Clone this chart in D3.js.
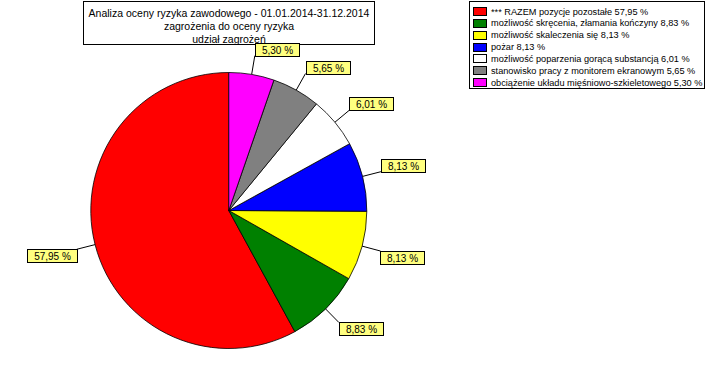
<!DOCTYPE html>
<html><head><meta charset="utf-8">
<script src="https://cdn.jsdelivr.net/npm/d3@7/dist/d3.min.js"></script>
<style>body{margin:0;background:#fff}svg{display:block}text{font-family:Arial,"Liberation Sans",sans-serif}</style>
</head><body>
<svg id="c" width="713" height="380"></svg>
<script>
const categories = ["*** RAZEM pozycje pozostałe","możliwość skręcenia, złamania kończyny","możliwość skaleczenia się","pożar","możliwość poparzenia gorącą substancją","stanowisko pracy z monitorem ekranowym","obciążenie układu mięśniowo-szkieletowego"];
const values = [57.95, 8.83, 8.13, 8.13, 6.01, 5.65, 5.30];
const labels = ["57,95 %","8,83 %","8,13 %","8,13 %","6,01 %","5,65 %","5,30 %"];
const colors = ["#FF0000","#008000","#FFFF00","#0000FF","#FFFFFF","#808080","#FF00FF"];
const titleLines = ["Analiza oceny ryzyka zawodowego - 01.01.2014-31.12.2014","zagrożenia do oceny ryzyka","udział zagrożeń"];

const svg = d3.select("#c");
const cx = 228.8, cy = 210.5, R = 138;
const data = categories.map((c,i)=>({name:c, value:values[i], label:labels[i], color:colors[i]}));

// title
const tg = svg.append("g");
tg.append("rect").attr("x",83.5).attr("y",1.5).attr("width",291).attr("height",43).attr("fill","#fff").attr("stroke","#000");
titleLines.forEach((t,i)=>tg.append("text").attr("x",229).attr("y",17+i*12.8).attr("text-anchor","middle").attr("font-size","10.5px").text(t));

// pie
const pie = d3.pie().value(d=>d.value).sort(null).startAngle(0).endAngle(-2*Math.PI);
const arcs = pie(data);
const arc = d3.arc().innerRadius(0).outerRadius(R);
const g = svg.append("g").attr("transform",`translate(${cx},${cy})`);
g.selectAll("path").data(arcs).join("path").attr("d",arc).attr("fill",d=>d.data.color).attr("stroke","#000").attr("stroke-width",0.8);

// labels
const LA = 157;
arcs.forEach(a=>{
  const m = (a.startAngle+a.endAngle)/2;
  const s = Math.sin(m), c = Math.cos(m);
  const x0 = cx + R*s, y0 = cy - R*c;
  const x1 = cx + LA*s, y1 = cy - LA*c;
  svg.append("line").attr("x1",x0).attr("y1",y0).attr("x2",x1).attr("y2",y1).attr("stroke","#000").attr("stroke-width",1);
  const lg = svg.append("g");
  const txt = lg.append("text").attr("font-size","10px").text(a.data.label);
  const w = Math.round(txt.node().getComputedTextLength()) + 13, h = 13;
  const bx = s >= 0 ? x1 : x1 - w;
  const by = c >= 0 ? y1 - h : y1;
  lg.insert("rect","text").attr("x",Math.round(bx)+0.5).attr("y",Math.round(by)+0.5).attr("width",w).attr("height",h).attr("fill","#FFFF80").attr("stroke","#000");
  txt.attr("x",Math.round(bx)+0.5+w/2).attr("y",Math.round(by)+10.5).attr("text-anchor","middle");
});

// legend
const lgd = svg.append("g");
lgd.append("rect").attr("x",469.5).attr("y",1.5).attr("width",235).attr("height",87).attr("fill","#fff").attr("stroke","#000");
data.forEach((d,i)=>{
  const yc = 11 + i*11.85;
  lgd.append("rect").attr("x",473.5).attr("y",Math.round(yc-4)+0.5).attr("width",13).attr("height",8).attr("fill",d.color).attr("stroke","#000");
  lgd.append("text").attr("x",491).attr("y",yc+3.5).attr("font-size","9.2px").text(d.name+" "+d.label);
});
</script>
</body></html>
